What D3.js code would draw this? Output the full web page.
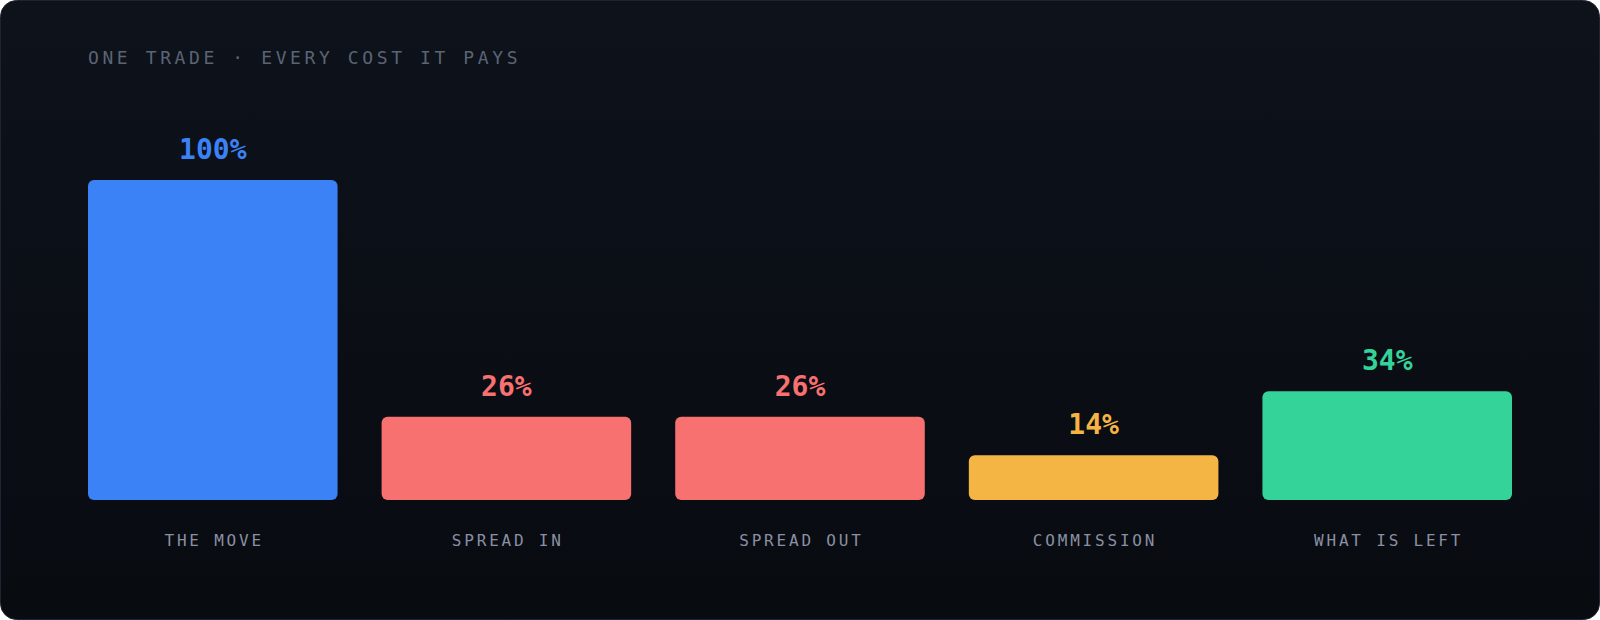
<!DOCTYPE html>
<html>
<head>
<meta charset="utf-8">
<script src="https://cdn.jsdelivr.net/npm/d3@7"></script>
<style>
  html, body { margin: 0; padding: 0; background: #ffffff; }
  svg { display: block; }
</style>
</head>
<body>
<svg id="chart" width="1600" height="620"></svg>
<script>
const title = "ONE TRADE · EVERY COST IT PAYS";
const categories = ["THE MOVE", "SPREAD IN", "SPREAD OUT", "COMMISSION", "WHAT IS LEFT"];
const values = [100, 26, 26, 14, 34];
const valueLabels = ["100%", "26%", "26%", "14%", "34%"];
const colors = ["#3b82f6", "#f87171", "#f87171", "#f4b545", "#34d399"];

const W = 1600, H = 620;
const svg = d3.select("#chart");
const mono = "'DejaVu Sans Mono', 'Liberation Mono', monospace";

const defs = svg.append("defs");
const grad = defs.append("linearGradient").attr("id", "bg").attr("x1", 0).attr("y1", 0).attr("x2", 0).attr("y2", 1);
grad.append("stop").attr("offset", "0%").attr("stop-color", "#0e121b");
grad.append("stop").attr("offset", "100%").attr("stop-color", "#080b10");

svg.append("rect")
  .attr("x", 0.5).attr("y", 0.5).attr("width", W - 1).attr("height", H - 1)
  .attr("rx", 16).attr("ry", 16)
  .attr("fill", "url(#bg)")
  .attr("stroke", "#1e2431").attr("stroke-width", 1);

svg.append("text")
  .attr("x", 88).attr("y", 64)
  .attr("font-family", mono).attr("font-size", 18)
  .attr("letter-spacing", 3.6)
  .attr("fill", "#5b6474")
  .text(title);

const x = d3.scaleBand().domain(categories).range([88, 1512]).paddingInner(0.15).paddingOuter(0);
const y = d3.scaleLinear().domain([0, 100]).range([500, 180]);

const data = categories.map((c, i) => ({ c, v: values[i], label: valueLabels[i], color: colors[i] }));

const g = svg.append("g");
g.selectAll("rect.bar").data(data).join("rect")
  .attr("class", "bar")
  .attr("x", d => x(d.c))
  .attr("y", d => y(d.v))
  .attr("width", x.bandwidth())
  .attr("height", d => y(0) - y(d.v))
  .attr("rx", 6).attr("ry", 6)
  .attr("fill", d => d.color);

g.selectAll("text.val").data(data).join("text")
  .attr("class", "val")
  .attr("x", d => x(d.c) + x.bandwidth() / 2)
  .attr("y", d => y(d.v) - 21)
  .attr("text-anchor", "middle")
  .attr("font-family", mono).attr("font-size", 28).attr("font-weight", "bold")
  .attr("fill", d => d.color)
  .text(d => d.label);

// category axis
const axis = d3.axisBottom(x).tickSize(0).tickPadding(0);
const ax = svg.append("g").attr("transform", "translate(0,546)").call(axis);
ax.select(".domain").remove();
ax.selectAll("text")
  .attr("y", 0).attr("dy", 0)
  .attr("dx", 1.4)
  .attr("font-family", mono).attr("font-size", 16)
  .attr("letter-spacing", 2.8)
  .attr("fill", "#8a90a3");
</script>
</body>
</html>
